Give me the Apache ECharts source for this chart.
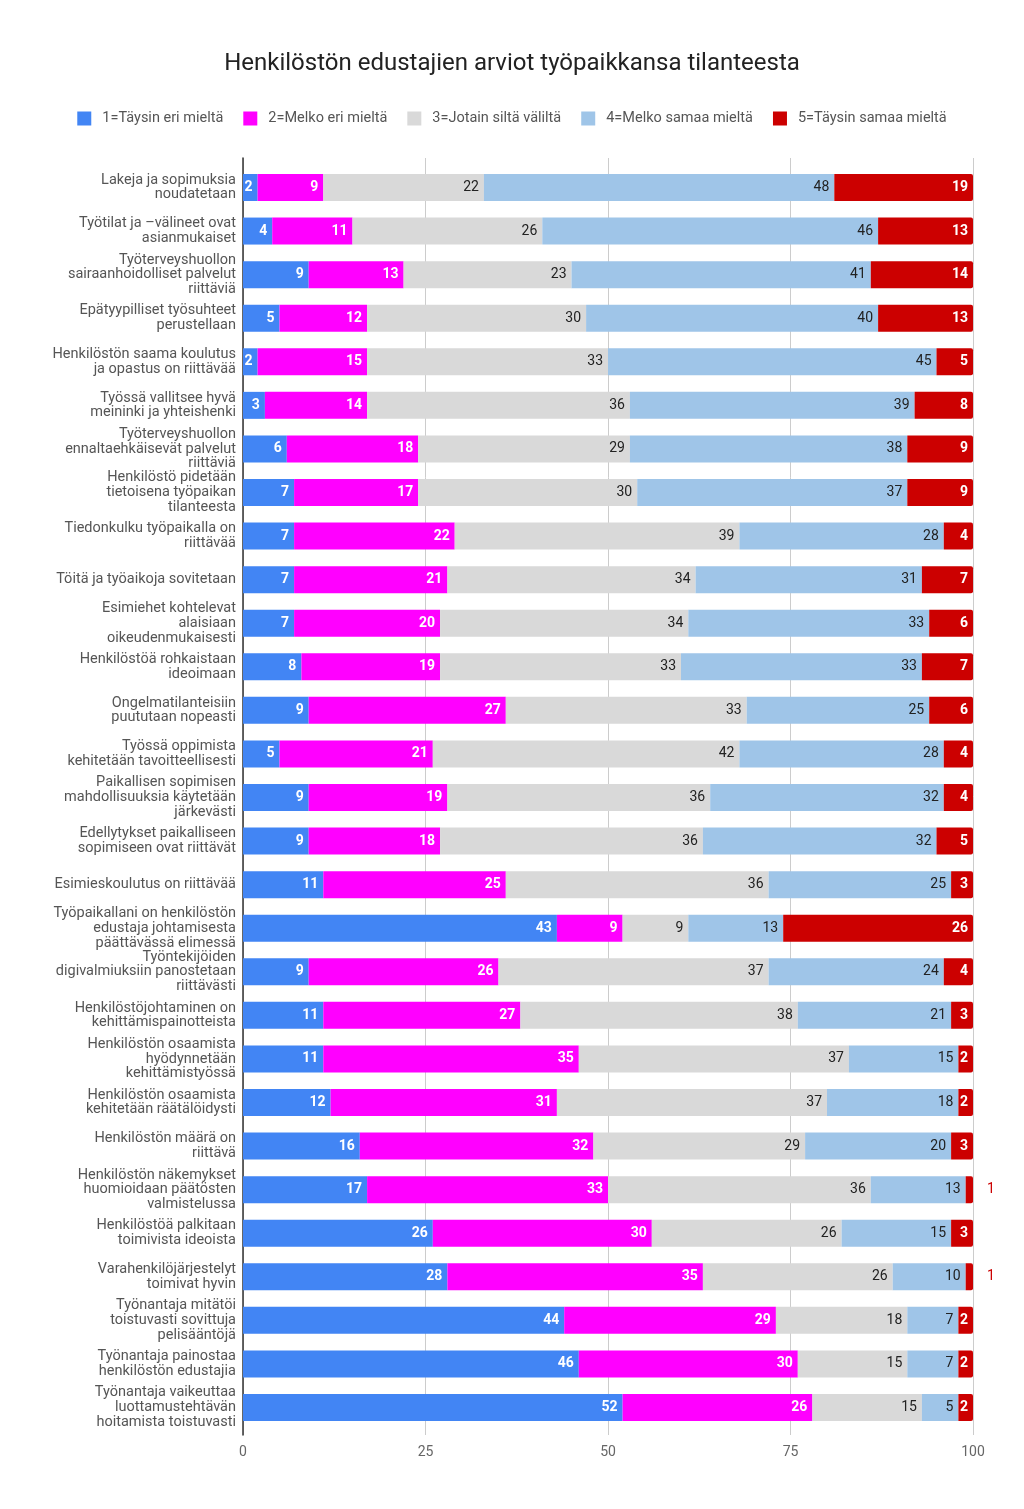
<!DOCTYPE html>
<html><head><meta charset="utf-8">
<script src="https://cdn.jsdelivr.net/npm/echarts@6/dist/echarts.min.js"></script>
<style>html,body{margin:0;padding:0;background:#fff}#c{width:1024px;height:1509px}</style>
</head><body><div id="c"></div>
<script>
const title = "Henkilöstön edustajien arviot työpaikkansa tilanteesta";
const seriesNames = ["1=Täysin eri mieltä","2=Melko eri mieltä","3=Jotain siltä väliltä","4=Melko samaa mieltä","5=Täysin samaa mieltä"];
const categories = [
"Lakeja ja sopimuksia\nnoudatetaan",
"Työtilat ja –välineet ovat\nasianmukaiset",
"Työterveyshuollon\nsairaanhoidolliset palvelut\nriittäviä",
"Epätyypilliset työsuhteet\nperustellaan",
"Henkilöstön saama koulutus\nja opastus on riittävää",
"Työssä vallitsee hyvä\nmeininki ja yhteishenki",
"Työterveyshuollon\nennaltaehkäisevät palvelut\nriittäviä",
"Henkilöstö pidetään\ntietoisena työpaikan\ntilanteesta",
"Tiedonkulku työpaikalla on\nriittävää",
"Töitä ja työaikoja sovitetaan",
"Esimiehet kohtelevat\nalaisiaan\noikeudenmukaisesti",
"Henkilöstöä rohkaistaan\nideoimaan",
"Ongelmatilanteisiin\npuututaan nopeasti",
"Työssä oppimista\nkehitetään tavoitteellisesti",
"Paikallisen sopimisen\nmahdollisuuksia käytetään\njärkevästi",
"Edellytykset paikalliseen\nsopimiseen ovat riittävät",
"Esimieskoulutus on riittävää",
"Työpaikallani on henkilöstön\nedustaja johtamisesta\npäättävässä elimessä",
"Työntekijöiden\ndigivalmiuksiin panostetaan\nriittävästi",
"Henkilöstöjohtaminen on\nkehittämispainotteista",
"Henkilöstön osaamista\nhyödynnetään\nkehittämistyössä",
"Henkilöstön osaamista\nkehitetään räätälöidysti",
"Henkilöstön määrä on\nriittävä",
"Henkilöstön näkemykset\nhuomioidaan päätösten\nvalmistelussa",
"Henkilöstöä palkitaan\ntoimivista ideoista",
"Varahenkilöjärjestelyt\ntoimivat hyvin",
"Työnantaja mitätöi\ntoistuvasti sovittuja\npelisääntöjä",
"Työnantaja painostaa\nhenkilöstön edustajia",
"Työnantaja vaikeuttaa\nluottamustehtävän\nhoitamista toistuvasti"
];
const s1 = [2,4,9,5,2,3,6,7,7,7,7,8,9,5,9,9,11,43,9,11,11,12,16,17,26,28,44,46,52];
const s2 = [9,11,13,12,15,14,18,17,22,21,20,19,27,21,19,18,25,9,26,27,35,31,32,33,30,35,29,30,26];
const s3 = [22,26,23,30,33,36,29,30,39,34,34,33,33,42,36,36,36,9,37,38,37,37,29,36,26,26,18,15,15];
const s4 = [48,46,41,40,45,39,38,37,28,31,33,33,25,28,32,32,25,13,24,21,15,18,20,13,15,10,7,7,5];
const s5 = [19,13,14,13,5,8,9,9,4,7,6,7,6,4,4,5,3,26,4,3,2,2,3,1,3,1,2,2,2];
const xTicks = [0,25,50,75,100];

const colors = ["#4285F4","#FF00FF","#D9D9D9","#9FC5E8","#CC0000"];
const labelColors = ["#fff","#fff","#222","#222","#fff"];
const labelWeights = ["bold","bold","normal","normal","bold"];
const FONT = "Roboto, 'Noto Sans', sans-serif";

const allSeries = [s1,s2,s3,s4,s5];
const series = allSeries.map((arr, i) => ({
  name: seriesNames[i],
  type: 'bar',
  stack: 'total',
  xAxisIndex: 0, yAxisIndex: 0,
  barWidth: 27,
  itemStyle: { color: colors[i], borderRadius: i === 4 ? [0,2,2,0] : 0 },
  label: {
    show: true, position: 'insideRight', distance: 5,
    color: labelColors[i], fontWeight: labelWeights[i], fontSize: 14, fontFamily: FONT
  },
  data: arr.map(v => (i === 4 && v === 1) ? {
    value: v,
    label: { position: 'right', distance: 14, color: '#CC0000', fontWeight: 'normal' }
  } : v)
}));

const chart = echarts.init(document.getElementById('c'), null, {renderer: 'canvas'});
chart.setOption({
  animation: false,
  backgroundColor: '#fff',
  title: {
    text: title, left: 'center', top: 47,
    textStyle: { fontFamily: FONT, fontSize: 24, fontWeight: 'normal', color: '#222' }
  },
  legend: {
    top: 106, left: 'center', icon: 'rect', itemWidth: 14, itemHeight: 14, itemGap: 20,
    textStyle: { fontFamily: FONT, fontSize: 14.5, color: '#555', padding: [0,0,0,6] },
    data: seriesNames
  },
  grid: [
    { left: 243, right: 51, top: 165.7, height: 1263.6 },
    { left: 243, right: 51, top: 158, bottom: 74 }
  ],
  xAxis: [
    { gridIndex: 0, type: 'value', min: 0, max: 100, show: false },
    { gridIndex: 1, type: 'value', min: 0, max: 100, interval: 25,
      axisLine: { show: false }, axisTick: { show: false },
      splitLine: { show: true, lineStyle: { color: '#ccc', width: 1 } },
      axisLabel: { show: true, margin: 10, fontFamily: FONT, fontSize: 14, color: '#666',
        formatter: v => xTicks.includes(v) ? String(v) : '' } }
  ],
  yAxis: [
    { gridIndex: 0, type: 'category', data: categories, inverse: true,
      axisLine: { show: false }, axisTick: { show: false }, splitLine: { show: false },
      axisLabel: { margin: 7, fontFamily: FONT, fontSize: 14.5, color: '#555', lineHeight: 14.7, align: 'right' } },
    { gridIndex: 1, type: 'category', data: [''],
      axisLine: { show: true, lineStyle: { color: '#333', width: 1.5 } },
      axisTick: { show: false }, axisLabel: { show: false }, splitLine: { show: false } }
  ],
  series: series
});
</script>
</body></html>
